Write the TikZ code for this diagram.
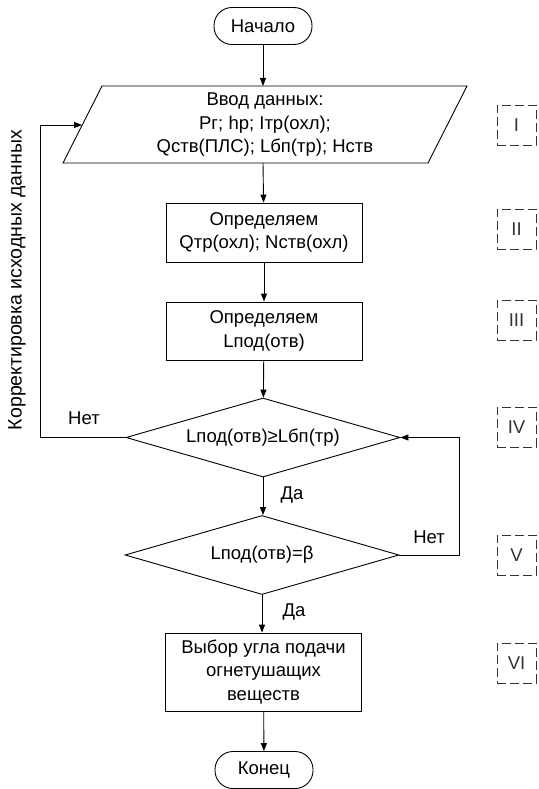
\documentclass[tikz,border=0pt]{standalone}
\usepackage{fontspec}
\setmainfont{Liberation Sans}
\usetikzlibrary{shapes.geometric,arrows.meta}
\begin{document}
\begin{tikzpicture}[x=1pt,y=-1pt,
  font=\fontsize{18.5}{23.5}\selectfont,
  line width=0.9pt,
  arr/.style={-{Triangle[length=8pt,width=6pt]}},
  term/.style={draw,rectangle,rounded corners=18pt,minimum width=98pt,minimum height=37pt,inner sep=0pt},
  procbox/.style={draw,rectangle,minimum width=196pt,align=center,inner sep=0pt},
  decis/.style={draw,diamond,aspect=3.47,minimum width=274pt,minimum height=79pt,inner sep=0pt},
  stagebox/.style={draw=black!80,dashed,dash pattern=on 9pt off 4pt,minimum width=39pt,minimum height=40pt,inner sep=0pt,text=black!80},
  lbl/.style={inner sep=0pt}]
\useasboundingbox (0,0) rectangle (538,789);

% start
\node[term] (start) at (263,26) {Начало};

% input parallelogram
\coordinate (ptl) at (102,86);
\coordinate (ptr) at (467,86);
\coordinate (pbr) at (428,163);
\coordinate (pbl) at (63,163);
\coordinate (ptop) at (263,86);
\coordinate (pbot) at (263,163);
\coordinate (pleft) at (82,125);
\draw (ptl) -- (ptr) -- (pbr) -- (pbl) -- cycle;
\node[align=center,lbl] (inp) at (265,125) {Ввод данных:\\Pг; hр; Iтр(охл);\\Qств(ПЛС); Lбп(тр); Hств};

% processes
\node[procbox,minimum height=59pt] (r2) at (264,232.5) {Определяем\\Qтр(охл); Nств(охл)};
\node[procbox,minimum height=58pt] (r3) at (264,331) {Определяем\\Lпод(отв)};

% decisions
\node[decis] (d1) at (263,437.5) {Lпод(отв)≥Lбп(тр)};
\node[decis] (d2) at (262,555) {Lпод(отв)=β};

% final process and end
\node[procbox,minimum height=78pt] (r6) at (263.5,672) {Выбор угла подачи\\огнетушащих\\веществ};
\node[term] (end) at (264,770) {Конец};

% connectors
\draw[arr] (start) -- (ptop);
\draw[arr] (pbot) -- (r2);
\draw[arr] (r2) -- (r3);
\draw[arr] (r3) -- (d1);
\draw[arr] (d1.south) -- (d1.south |- d2.north);
\draw[arr] (d2.south) -- (d2.south |- r6.north);
\draw[arr] (r6) -- (end);

\coordinate (rc) at (459,555);
\draw[arr] (d2.east) -- (rc) |- (d1.east);
\coordinate (lc) at (40,125);
\draw[arr] (d1.west) -| (lc) -- (pleft);

% labels
\node[lbl] (da1) at (292,495) {Да};
\node[lbl] (da2) at (294,612) {Да};
\node[lbl] (net1) at (429,537) {Нет};
\node[lbl] (net2) at (84,418) {Нет};
\node[lbl,rotate=90,font=\fontsize{19.5}{23.5}\selectfont] (korr) at (17,280) {Корректировка исходных данных};

% stage boxes
\node[stagebox] (s1) at (516.5,125) {I};
\node[stagebox] (s2) at (516.5,229) {II};
\node[stagebox] (s3) at (516.5,320) {III};
\node[stagebox] (s4) at (516.5,427) {IV};
\node[stagebox] (s5) at (516.5,555) {V};
\node[stagebox] (s6) at (516.5,663) {VI};
\end{tikzpicture}
\end{document}
